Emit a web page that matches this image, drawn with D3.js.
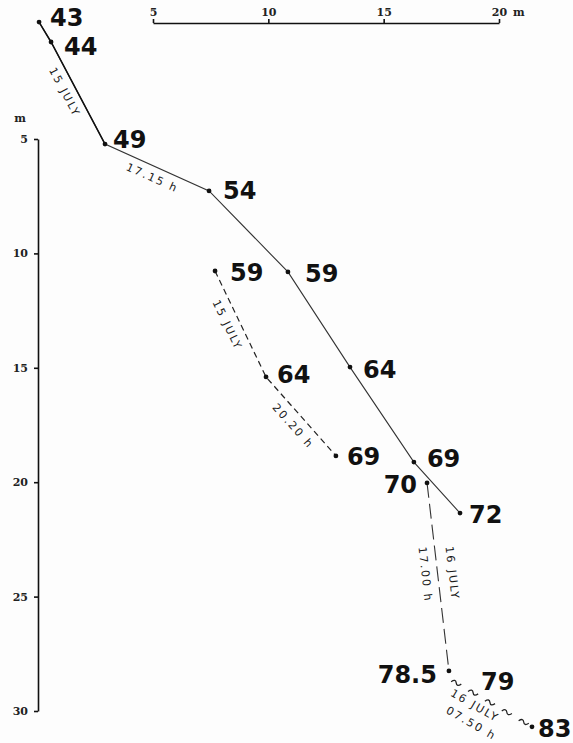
<!DOCTYPE html>
<html>
<head>
<meta charset="utf-8">
<script src="https://cdn.jsdelivr.net/npm/d3@7"></script>
<style>
  body { margin: 0; background: #fdfdfd; }
  .num { font-family: "DejaVu Sans", sans-serif; font-weight: bold; font-size: 24px; fill: #111; }
  .note { font-family: "DejaVu Sans", sans-serif; font-size: 11px; fill: #1a1a1a; letter-spacing: 2px; }
  .axis text { font-family: "DejaVu Serif", serif; font-weight: bold; font-size: 11px; fill: #222; }
  .axis line, .axis path { stroke: #111; stroke-width: 1.6; }
</style>
</head>
<body>
<script>
// horizontal distance (m) / depth (m) of each numbered point
var solidLabels = ["43", "44", "49", "54", "59", "64", "69", "72"];
var solidX      = [0.06, 0.58, 2.92, 7.43, 10.85, 13.54, 16.31, 18.31];
var solidY      = [-0.11, 0.76, 5.22, 7.27, 10.81, 14.97, 19.12, 21.35];

var dashLabels = ["59", "64", "69"];
var dashX      = [7.69, 9.90, 12.93];
var dashY      = [10.77, 15.40, 18.85];

var longLabels = ["70", "78.5"];
var longX      = [16.88, 17.83];
var longY      = [20.03, 28.25];

var waveLabels = ["79", "83"];
var waveX      = [17.92, 21.43];
var waveY      = [28.64, 30.69];

var xTicks = [5, 10, 15, 20];
var yTicks = [5, 10, 15, 20, 25, 30];

var width = 573, height = 743;

var svg = d3.select("body").append("svg")
   .attr("width", width)
   .attr("height", height);

var x = d3.scaleLinear().domain([5, 20]).range([153, 499]);
var y = d3.scaleLinear().domain([5, 30]).range([139, 711]);

// axes
var xAxis = d3.axisTop(x).tickValues(xTicks).tickSize(4).tickSizeOuter(0).tickPadding(3);
svg.append("g")
   .attr("class", "axis")
   .attr("transform", "translate(0,23)")
   .call(xAxis);
svg.append("text")
   .attr("x", 513).attr("y", 16)
   .style("font-family", "DejaVu Serif")
   .style("font-weight", "bold")
   .style("font-size", "11px")
   .style("fill", "#222")
   .text("m");

var yAxis = d3.axisLeft(y).tickValues(yTicks).tickSize(4).tickSizeOuter(0).tickPadding(6);
svg.append("g")
   .attr("class", "axis")
   .attr("transform", "translate(38,0)")
   .call(yAxis);
svg.append("text")
   .attr("x", 20).attr("y", 122)
   .attr("text-anchor", "middle")
   .style("font-family", "DejaVu Serif")
   .style("font-weight", "bold")
   .style("font-size", "11px")
   .style("fill", "#222")
   .text("m");

function pts(xs, ys) { return xs.map((v, i) => [x(v), y(ys[i])]); }

var line = d3.line();

var solid = pts(solidX, solidY);
var dash = pts(dashX, dashY);
var longd = pts(longX, longY);
var wave = pts(waveX, waveY);

svg.append("path").attr("d", line(solid))
   .attr("fill", "none").attr("stroke", "#333").attr("stroke-width", 1.1);
// first stretch is drawn heavier in the original
svg.append("path").attr("d", line(solid.slice(0, 3)))
   .attr("fill", "none").attr("stroke", "#111").attr("stroke-width", 1.5);
svg.append("path").attr("d", line(dash))
   .attr("fill", "none").attr("stroke", "#222").attr("stroke-width", 1.2)
   .attr("stroke-dasharray", "6,4");
svg.append("path").attr("d", line(longd))
   .attr("fill", "none").attr("stroke", "#333").attr("stroke-width", 1.1)
   .attr("stroke-dasharray", "15,6");

// wavy line drawn as a row of tildes
(function () {
   var p0 = wave[0], p1 = wave[1];
   var dx = p1[0] - p0[0], dy = p1[1] - p0[1];
   var L = Math.hypot(dx, dy);
   var ang = Math.atan2(dy, dx) * 180 / Math.PI;
   var g = svg.append("g")
      .attr("transform", `translate(${p0[0]},${p0[1]}) rotate(${ang})`);
   for (var s = 6; s < L - 4; s += 19.5) {
      g.append("path")
         .attr("d", `M${s - 5},1.5 Q${s - 2.5},-3.5 ${s},0 T${s + 5},-1.5`)
         .attr("fill", "none").attr("stroke", "#222").attr("stroke-width", 1.3);
   }
})();

// dots (wave start has none)
var dots = solid.concat(dash, longd, [wave[1]]);
svg.selectAll("circle.dot")
   .data(dots)
   .enter()
   .append("circle")
   .attr("class", "dot")
   .attr("cx", d => d[0])
   .attr("cy", d => d[1])
   .attr("r", 2.4)
   .style("fill", "#111");

// number labels: [dx, dy, anchor]
var solidOff = [[11, 4], [13, 13], [8, 4], [14, 8], [17, 10], [13, 11], [13, 5], [9, 10]];
var dashOff = [[15, 10], [11, 6], [11, 9]];
var longOff = [[-10, 10, "end"], [-12, 12, "end"]];
var waveOff = [[30, 10], [6, 10]];

function labels(p, names, off) {
   svg.selectAll(null)
      .data(p)
      .enter()
      .append("text")
      .attr("class", "num")
      .attr("x", (d, i) => d[0] + off[i][0])
      .attr("y", (d, i) => d[1] + off[i][1])
      .attr("text-anchor", (d, i) => off[i][2] || "start")
      .text((d, i) => names[i]);
}
labels(solid, solidLabels, solidOff);
labels(dash, dashLabels, dashOff);
labels(longd, longLabels, longOff);
labels(wave, waveLabels, waveOff);

// notes written along segments: [points, segment start index, text, t, perpendicular offset]
var notes = [
   [solid, 1, "15 JULY", 0.44, -12],
   [solid, 2, "17.15 h", 0.5, -12],
   [dash, 0, "15 JULY", 0.46, -13],
   [dash, 1, "20.20 h", 0.52, -13],
   [longd, 0, "16 JULY", 0.49, 14],
   [longd, 0, "17.00 h", 0.48, -13],
   [wave, 0, "16 JULY", 0.36, -11],
   [wave, 0, "07.50 h", 0.42, -28]
];

notes.forEach(n => {
   var a = n[0][n[1]], b = n[0][n[1] + 1];
   var dx = b[0] - a[0], dy = b[1] - a[1];
   var L = Math.hypot(dx, dy);
   var ux = dx / L, uy = dy / L;
   var cx = a[0] + ux * L * n[3] + uy * n[4];
   var cy = a[1] + uy * L * n[3] - ux * n[4];
   var ang = Math.atan2(dy, dx) * 180 / Math.PI;
   svg.append("text")
      .attr("class", "note")
      .attr("transform", `translate(${cx},${cy}) rotate(${ang})`)
      .attr("text-anchor", "middle")
      .attr("dominant-baseline", "middle")
      .text(n[2]);
});
</script>
</body>
</html>
